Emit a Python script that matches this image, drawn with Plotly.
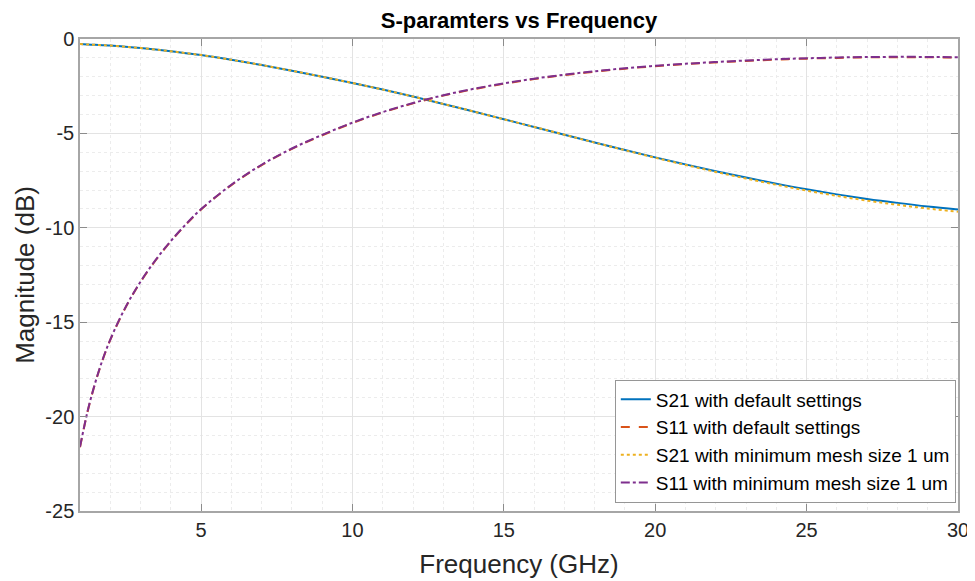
import plotly.graph_objects as go

freq = [1, 1.25, 1.5, 1.75, 2, 2.5, 3, 3.5, 4, 4.5, 5, 6, 7, 8, 9, 10, 11, 12, 13, 14, 15,
        16, 17, 18, 19, 20, 21, 22, 23, 24, 25, 26, 27, 28, 29, 30]

s21_default = [-0.27, -0.29, -0.31, -0.33, -0.35, -0.41, -0.48, -0.56, -0.65, -0.75, -0.85,
               -1.1, -1.38, -1.68, -2.0, -2.33, -2.68, -3.05, -3.44, -3.84, -4.25,
               -4.66, -5.07, -5.48, -5.88, -6.27, -6.64, -7.0, -7.34, -7.66, -7.96,
               -8.23, -8.47, -8.68, -8.87, -9.03]

s11_default = [-21.62, -19.74, -18.24, -16.99, -15.94, -14.24, -12.87, -11.72, -10.72, -9.83, -9.03,
               -7.74, -6.68, -5.82, -5.1, -4.45, -3.89, -3.41, -3.0, -2.66, -2.37,
               -2.12, -1.91, -1.73, -1.57, -1.44, -1.33, -1.24, -1.16, -1.09, -1.04,
               -1.0, -0.975, -0.965, -0.97, -0.99]

s21_mesh = [-0.27, -0.29, -0.31, -0.33, -0.35, -0.41, -0.48, -0.56, -0.65, -0.75, -0.85,
            -1.1, -1.38, -1.68, -2.0, -2.33, -2.68, -3.05, -3.44, -3.84, -4.25,
            -4.66, -5.07, -5.49, -5.89, -6.29, -6.67, -7.04, -7.39, -7.72, -8.03,
            -8.31, -8.56, -8.78, -8.98, -9.15]

s11_mesh = [-21.6, -19.72, -18.22, -16.97, -15.92, -14.22, -12.85, -11.7, -10.7, -9.81, -9.01,
            -7.72, -6.66, -5.8, -5.08, -4.43, -3.87, -3.39, -2.98, -2.64, -2.35,
            -2.1, -1.89, -1.71, -1.55, -1.42, -1.31, -1.22, -1.14, -1.07, -1.02,
            -0.98, -0.955, -0.945, -0.95, -0.97]

names = ["S21 with default settings", "S11 with default settings",
         "S21 with minimum mesh size 1 um", "S11 with minimum mesh size 1 um"]

x_ticks = [5, 10, 15, 20, 25, 30]
y_ticks = [0, -5, -10, -15, -20, -25]

fig = go.Figure()
series = [
    (s21_default, "#0072BD", "solid"),
    (s11_default, "#D95319", "dash"),
    (s21_mesh, "#EDB120", "dot"),
    (s11_mesh, "#7E2F8E", "dashdot"),
]
for (vals, col, dash), nm in zip(series, names):
    fig.add_trace(go.Scatter(x=freq, y=vals, mode="lines", name=nm,
                             line=dict(color=col, width=2, dash=dash, shape="spline", smoothing=1.0)))

axis_common = dict(
    showline=True, linecolor="#a6a6a6", linewidth=1.5, mirror="ticks",
    ticks="inside", ticklen=7, tickcolor="#8c8c8c", tickwidth=1,
    showgrid=True, gridcolor="#e3e3e3", gridwidth=1, zeroline=False,
    automargin=False,
    tickfont=dict(family="Liberation Sans, Arial", size=20, color="#262626"),
)

fig.update_xaxes(range=[1, 30], tickvals=x_ticks, ticktext=[str(v) for v in x_ticks],
                 minor=dict(dtick=1, tick0=0, showgrid=True, gridcolor="#ececec", griddash="dot", ticks=""),
                 title=dict(text="Frequency (GHz)", font=dict(family="Liberation Sans, Arial", size=26, color="#262626"), standoff=15),
                 **axis_common)
fig.update_yaxes(range=[-25, 0], tickvals=y_ticks, ticktext=[str(v) for v in y_ticks],
                 minor=dict(dtick=1, tick0=0, showgrid=True, gridcolor="#ececec", griddash="dot", ticks=""),
                 title=dict(text="Magnitude (dB)", font=dict(family="Liberation Sans, Arial", size=26, color="#262626"), standoff=3),
                 **axis_common)

fig.update_layout(
    width=967, height=573,
    margin=dict(l=72, r=17, t=31, b=70),
    paper_bgcolor="white", plot_bgcolor="white",
    title=dict(text="<b>S-paramters vs Frequency</b>", x=0.5, xref="paper", xanchor="center",
               y=1 - 12 / 573, yref="container", yanchor="middle", automargin=False,
               font=dict(family="Liberation Sans, Arial", size=22, color="black")),
    legend=dict(x=0.9975, y=0.018, xanchor="right", yanchor="bottom",
                bgcolor="white", bordercolor="#969696", borderwidth=1,
                font=dict(family="Liberation Sans, Arial", size=19, color="black"),
                itemwidth=30, tracegroupgap=0),
    showlegend=True,
)

fig.write_html("out.html")
